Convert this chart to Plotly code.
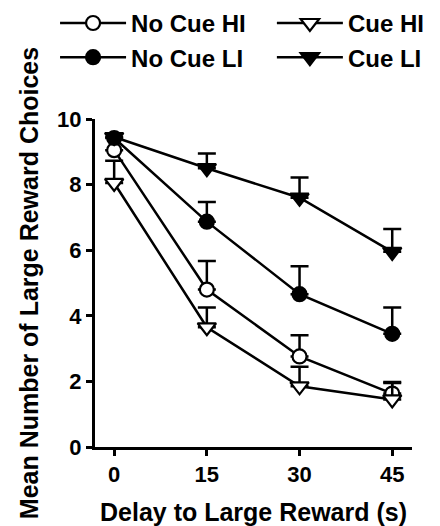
import plotly.graph_objects as go

delays = [0, 15, 30, 45]
x_tick_labels = ["0", "15", "30", "45"]
y_ticks = [0, 2, 4, 6, 8, 10]

no_cue_hi = [9.05, 4.8, 2.76, 1.63]
no_cue_hi_err = [0.0, 0.87, 0.65, 0.35]
cue_hi = [8.05, 3.65, 1.85, 1.45]
cue_hi_err = [0.68, 0.6, 0.6, 0.5]
no_cue_li = [9.42, 6.87, 4.66, 3.45]
no_cue_li_err = [0.0, 0.6, 0.85, 0.8]
cue_li = [9.45, 8.5, 7.6, 5.95]
cue_li_err = [0.0, 0.45, 0.62, 0.7]

series = [
    ("No Cue HI", no_cue_hi, no_cue_hi_err, "circle", "white", 14, "legend"),
    ("No Cue LI", no_cue_li, no_cue_li_err, "circle", "black", 14, "legend"),
    ("Cue HI", cue_hi, cue_hi_err, "triangle-down", "white", 16, "legend2"),
    ("Cue LI", cue_li, cue_li_err, "triangle-down", "black", 16, "legend2"),
]

font_family = "Liberation Sans, Arial, sans-serif"

fig = go.Figure()
for name, y, err, sym, fill, size, leg in series:
    fig.add_trace(go.Scatter(
        x=delays, y=y, name=name, mode="lines+markers", legend=leg,
        line=dict(color="black", width=2.5),
        marker=dict(symbol=sym, size=size, color=fill, line=dict(color="black", width=2.2)),
        error_y=dict(type="data", symmetric=False, array=err, arrayminus=[0] * len(err),
                     color="black", thickness=2.5, width=9),
        cliponaxis=False,
    ))

legend_common = dict(
    orientation="v", xanchor="left", yanchor="top",
    font=dict(size=24, family=font_family, weight="bold"),
    bgcolor="rgba(0,0,0,0)", itemwidth=66, traceorder="normal",
)

fig.update_layout(
    width=440, height=526,
    margin=dict(l=95, r=28, t=119, b=79, autoexpand=False),
    plot_bgcolor="white", paper_bgcolor="white",
    font=dict(family=font_family, size=22, color="black", weight="bold"),
    showlegend=True,
    legend=dict(x=-0.126, y=1.36, **legend_common),
    legend2=dict(x=0.558, y=1.36, **legend_common),
    xaxis=dict(
        range=[-3.1, 48.2], tickvals=delays, ticktext=x_tick_labels,
        showline=True, linecolor="black", linewidth=3,
        ticks="outside", ticklen=6, tickwidth=2.5, tickcolor="black",
        showgrid=False, zeroline=False,
        tickfont=dict(size=22, family=font_family, weight="bold"),
        title=dict(text="Delay to Large Reward (s)", standoff=18,
                   font=dict(size=25, family=font_family, weight="bold")),
    ),
    yaxis=dict(
        range=[0, 10], tickvals=y_ticks,
        showline=True, linecolor="black", linewidth=3,
        ticks="outside", ticklen=6, tickwidth=2.5, tickcolor="black",
        showgrid=False, zeroline=False,
        tickfont=dict(size=22, family=font_family, weight="bold"),
        title=dict(text="Mean Number of Large Reward Choices", standoff=12,
                   font=dict(size=25, family=font_family, weight="bold")),
    ),
)

fig.write_html("out.html", config={"displayModeBar": False},
               post_script="document.body.style.margin='0';")
